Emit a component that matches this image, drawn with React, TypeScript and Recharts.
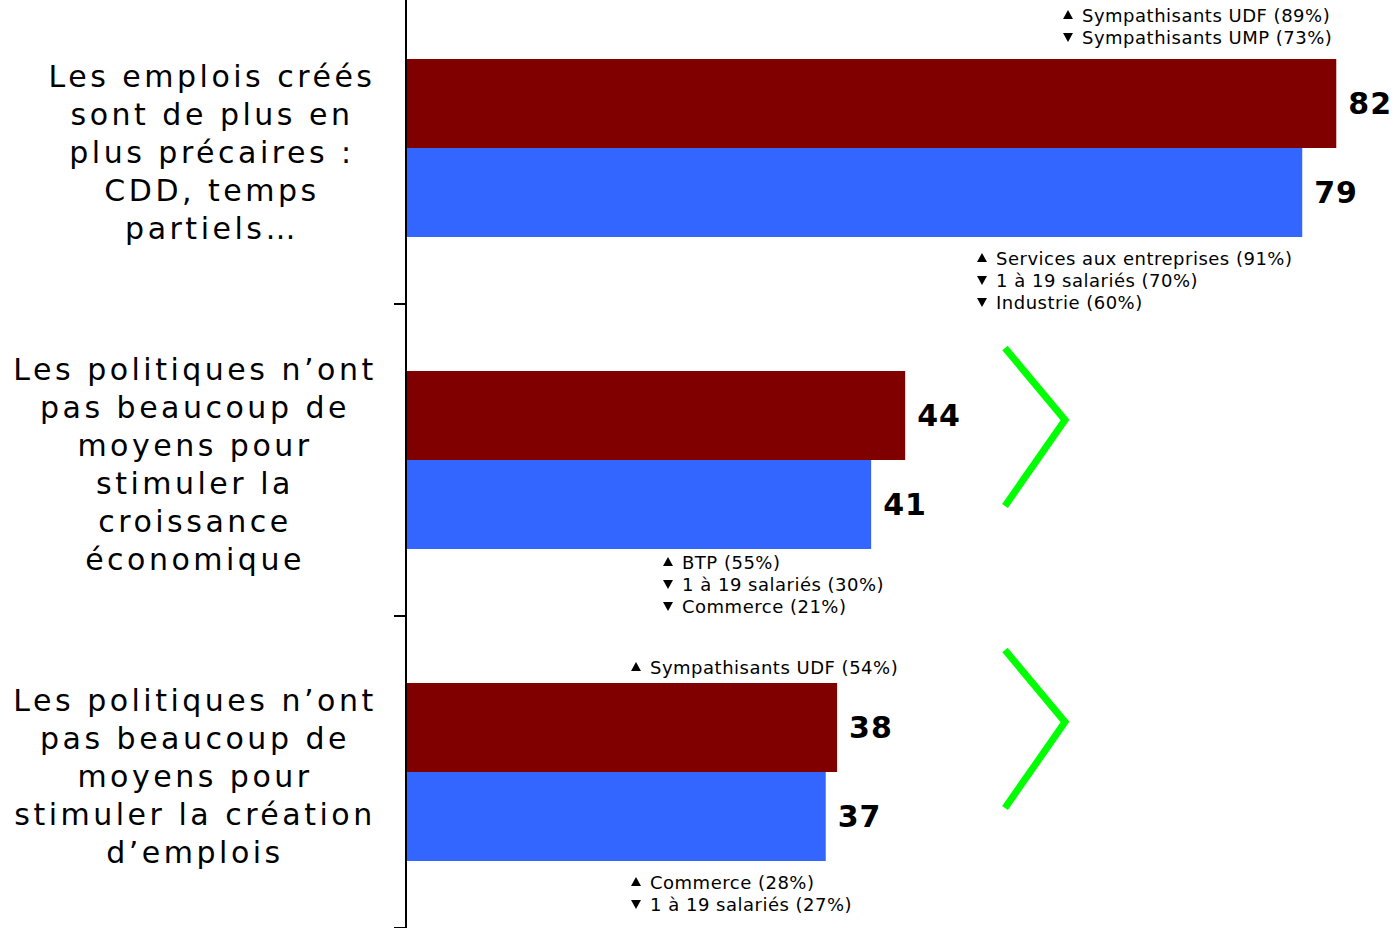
import { BarChart, Bar, XAxis, YAxis, LabelList } from "recharts";

const categories = [
  "Les emplois créés\nsont de plus en\nplus précaires :\nCDD, temps\npartiels…",
  "Les politiques n’ont\npas beaucoup de\nmoyens pour\nstimuler la\ncroissance\néconomique",
  "Les politiques n’ont\npas beaucoup de\nmoyens pour\nstimuler la création\nd’emplois",
];
const seriesRed = [82, 44, 38];
const seriesBlue = [79, 41, 37];

// annotation blocks: lines with arrow direction
const notes = [
  [["up", "Sympathisants UDF (89%)"], ["down", "Sympathisants UMP (73%)"]],
  [["up", "Services aux entreprises (91%)"], ["down", "1 à 19 salariés (70%)"], ["down", "Industrie (60%)"]],
  [["up", "BTP (55%)"], ["down", "1 à 19 salariés (30%)"], ["down", "Commerce (21%)"]],
  [["up", "Sympathisants UDF (54%)"]],
  [["up", "Commerce (28%)"], ["down", "1 à 19 salariés (27%)"]],
];
const notePos = [
  { x: 1063, y: 15 },
  { x: 977, y: 258 },
  { x: 663, y: 562 },
  { x: 631, y: 667 },
  { x: 631, y: 882 },
];
const chevronY = [420, 722];

const data = categories.map((c, i) => ({ cat: c, red: seriesRed[i], blue: seriesBlue[i] }));

const FONT = "'DejaVu Sans', Verdana, sans-serif";
const labelX = [212, 195, 195];

function CatTick({ y, payload, index }: any) {
  const lines = String(payload.value).split("\n");
  const first = y - ((lines.length - 1) * 38) / 2 + 4;
  const cx = labelX[index] ?? 195;
  return (
    <g>
      <text
        x={cx}
        textAnchor="middle"
        fontFamily={FONT}
        fontSize={30}
        fill="#000"
        style={{ letterSpacing: "3.5px" }}
      >
        {lines.map((l, k) => (
          <tspan key={k} x={cx} y={first + k * 38} dominantBaseline="central">
            {l}
          </tspan>
        ))}
      </text>
      <line x1={394} x2={406} y1={y + 156} y2={y + 156} stroke="#000" strokeWidth={2} />
    </g>
  );
}

function Notes() {
  return (
    <svg
      width={1400}
      height={928}
      style={{ position: "absolute", left: 0, top: 0, pointerEvents: "none" }}
    >
      {notes.map((block, b) =>
        block.map(([dir, txt], k) => {
          const x = notePos[b].x;
          const cy = notePos[b].y + k * 22;
          const tri =
            dir === "up"
              ? `${x},${cy + 4} ${x + 10},${cy + 4} ${x + 5},${cy - 5}`
              : `${x},${cy - 4} ${x + 10},${cy - 4} ${x + 5},${cy + 5}`;
          return (
            <g key={`${b}-${k}`}>
              <polygon points={tri} fill="#000" />
              <text
                x={x + 19}
                y={cy}
                dominantBaseline="central"
                fontFamily={FONT}
                fontSize={18}
                fill="#000"
                style={{ letterSpacing: "0.5px" }}
              >
                {txt}
              </text>
            </g>
          );
        })
      )}
      {chevronY.map((cy, i) => (
        <polyline
          key={i}
          points={`1005,${cy - 72} 1065,${cy} 1005,${cy + 86}`}
          fill="none"
          stroke="#00ff00"
          strokeWidth={7}
        />
      ))}
    </svg>
  );
}

export default function App() {
  return (
    <div
      style={{
        position: "absolute",
        left: 0,
        top: 0,
        width: 1400,
        height: 928,
        overflow: "hidden",
        background: "#fff",
      }}
    >
      <div style={{ position: "absolute", left: 0, top: -8 }}>
        <BarChart
          width={1393}
          height={936}
          data={data}
          layout="vertical"
          margin={{ top: 0, right: 0, bottom: 0, left: 0 }}
          barGap={0}
          barCategoryGap={67}
        >
          <XAxis type="number" domain={[0, 87]} hide />
          <YAxis
            type="category"
            dataKey="cat"
            width={406}
            axisLine={{ stroke: "#000", strokeWidth: 2 }}
            tickLine={false}
            tick={<CatTick />}
            interval={0}
          />
          <Bar dataKey="red" fill="#800000" barSize={89} isAnimationActive={false}>
            <LabelList
              dataKey="red"
              position="right"
              offset={12}
              fill="#000"
              fontSize={30}
              fontWeight="bold"
              fontFamily={FONT}
              style={{ letterSpacing: "1px" }}
            />
          </Bar>
          <Bar dataKey="blue" fill="#3366ff" barSize={89} isAnimationActive={false}>
            <LabelList
              dataKey="blue"
              position="right"
              offset={12}
              fill="#000"
              fontSize={30}
              fontWeight="bold"
              fontFamily={FONT}
              style={{ letterSpacing: "1px" }}
            />
          </Bar>
        </BarChart>
      </div>
      <Notes />
    </div>
  );
}
